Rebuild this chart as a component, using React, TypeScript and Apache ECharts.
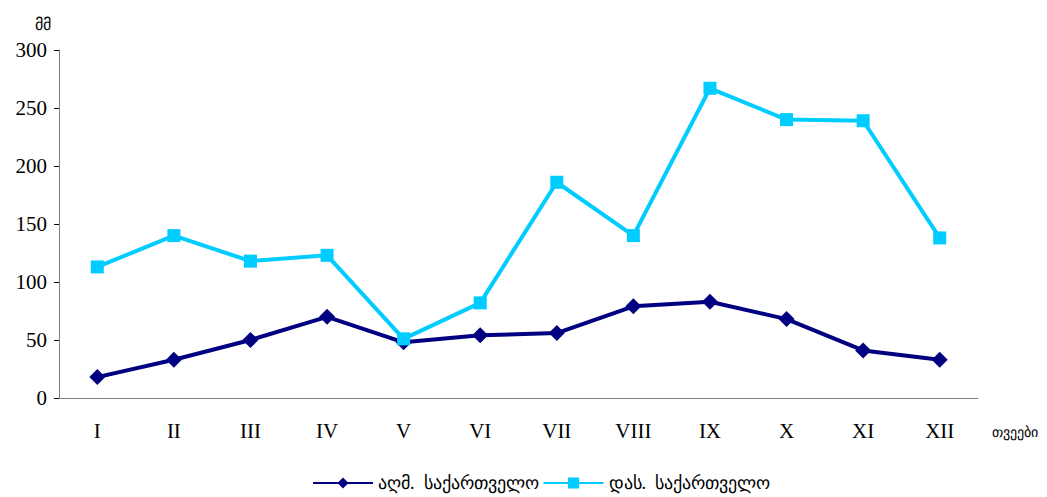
import React, { useEffect, useRef } from "react";
import * as echarts from "echarts";

const months = ["I", "II", "III", "IV", "V", "VI", "VII", "VIII", "IX", "X", "XI", "XII"];
const eastGeorgia = [18, 33, 50, 70, 48, 54, 56, 79, 83, 68, 41, 33];
const westGeorgia = [113, 140, 118, 123, 51, 82, 186, 140, 267, 240, 239, 138];
const yTicks = { min: 0, max: 300, interval: 50 };

const serif = "'Liberation Serif', 'Times New Roman', serif";

export default function App() {
  const ref = useRef<HTMLDivElement>(null);

  useEffect(() => {
    if (!ref.current) return;
    const chart = echarts.init(ref.current, null, { renderer: "svg" });
    chart.setOption({
      animation: false,
      backgroundColor: "#ffffff",
      textStyle: { fontFamily: serif },
      grid: { left: 59, right: 69, top: 50, bottom: 99, containLabel: false, outerBoundsMode: "none" },
      legend: {
        bottom: 0,
        left: 307,
        itemWidth: 60,
        itemHeight: 14,
        itemGap: 4,
        textStyle: { fontFamily: serif, fontSize: 18, color: "#000" },
        data: ["აღმ.  საქართველო", "დას.  საქართველო"],
      },
      xAxis: {
        type: "category",
        data: months,
        boundaryGap: true,
        name: "თვეები",
        nameLocation: "end",
        nameGap: 14,
        nameTextStyle: { fontFamily: serif, fontSize: 14, color: "#000", verticalAlign: "top", padding: [27, 0, 0, 0] },
        axisLine: { lineStyle: { color: "#808080", width: 1 } },
        axisTick: { alignWithLabel: false, length: 6, lineStyle: { color: "#000" } },
        axisLabel: { color: "#000", fontSize: 21, margin: 22, fontFamily: serif },
        splitLine: { show: false },
      },
      yAxis: {
        type: "value",
        min: yTicks.min,
        max: yTicks.max,
        interval: yTicks.interval,
        name: "მმ",
        nameLocation: "end",
        nameGap: 18,
        nameTextStyle: { fontFamily: serif, fontSize: 16, color: "#000", align: "right", padding: [0, 8, 0, 0] },
        axisLine: { show: true, lineStyle: { color: "#808080", width: 1 } },
        axisTick: { show: true, length: 5, lineStyle: { color: "#000" } },
        axisLabel: { color: "#000", fontSize: 21, margin: 12, fontFamily: serif },
        splitLine: { show: false },
      },
      series: [
        {
          name: "აღმ.  საქართველო",
          type: "line",
          data: eastGeorgia,
          symbol: "diamond",
          symbolSize: 16,
          color: "#000080",
          lineStyle: { color: "#000080", width: 4 },
          itemStyle: { color: "#000080" },
        },
        {
          name: "დას.  საქართველო",
          type: "line",
          data: westGeorgia,
          symbol: "rect",
          symbolSize: 13,
          color: "#00CCFF",
          lineStyle: { color: "#00CCFF", width: 4 },
          itemStyle: { color: "#00CCFF" },
        },
      ],
    });
    return () => chart.dispose();
  }, []);

  return (
    <div
      ref={ref}
      style={{ position: "fixed", left: 0, top: 0, width: 1047, height: 497 }}
    />
  );
}
